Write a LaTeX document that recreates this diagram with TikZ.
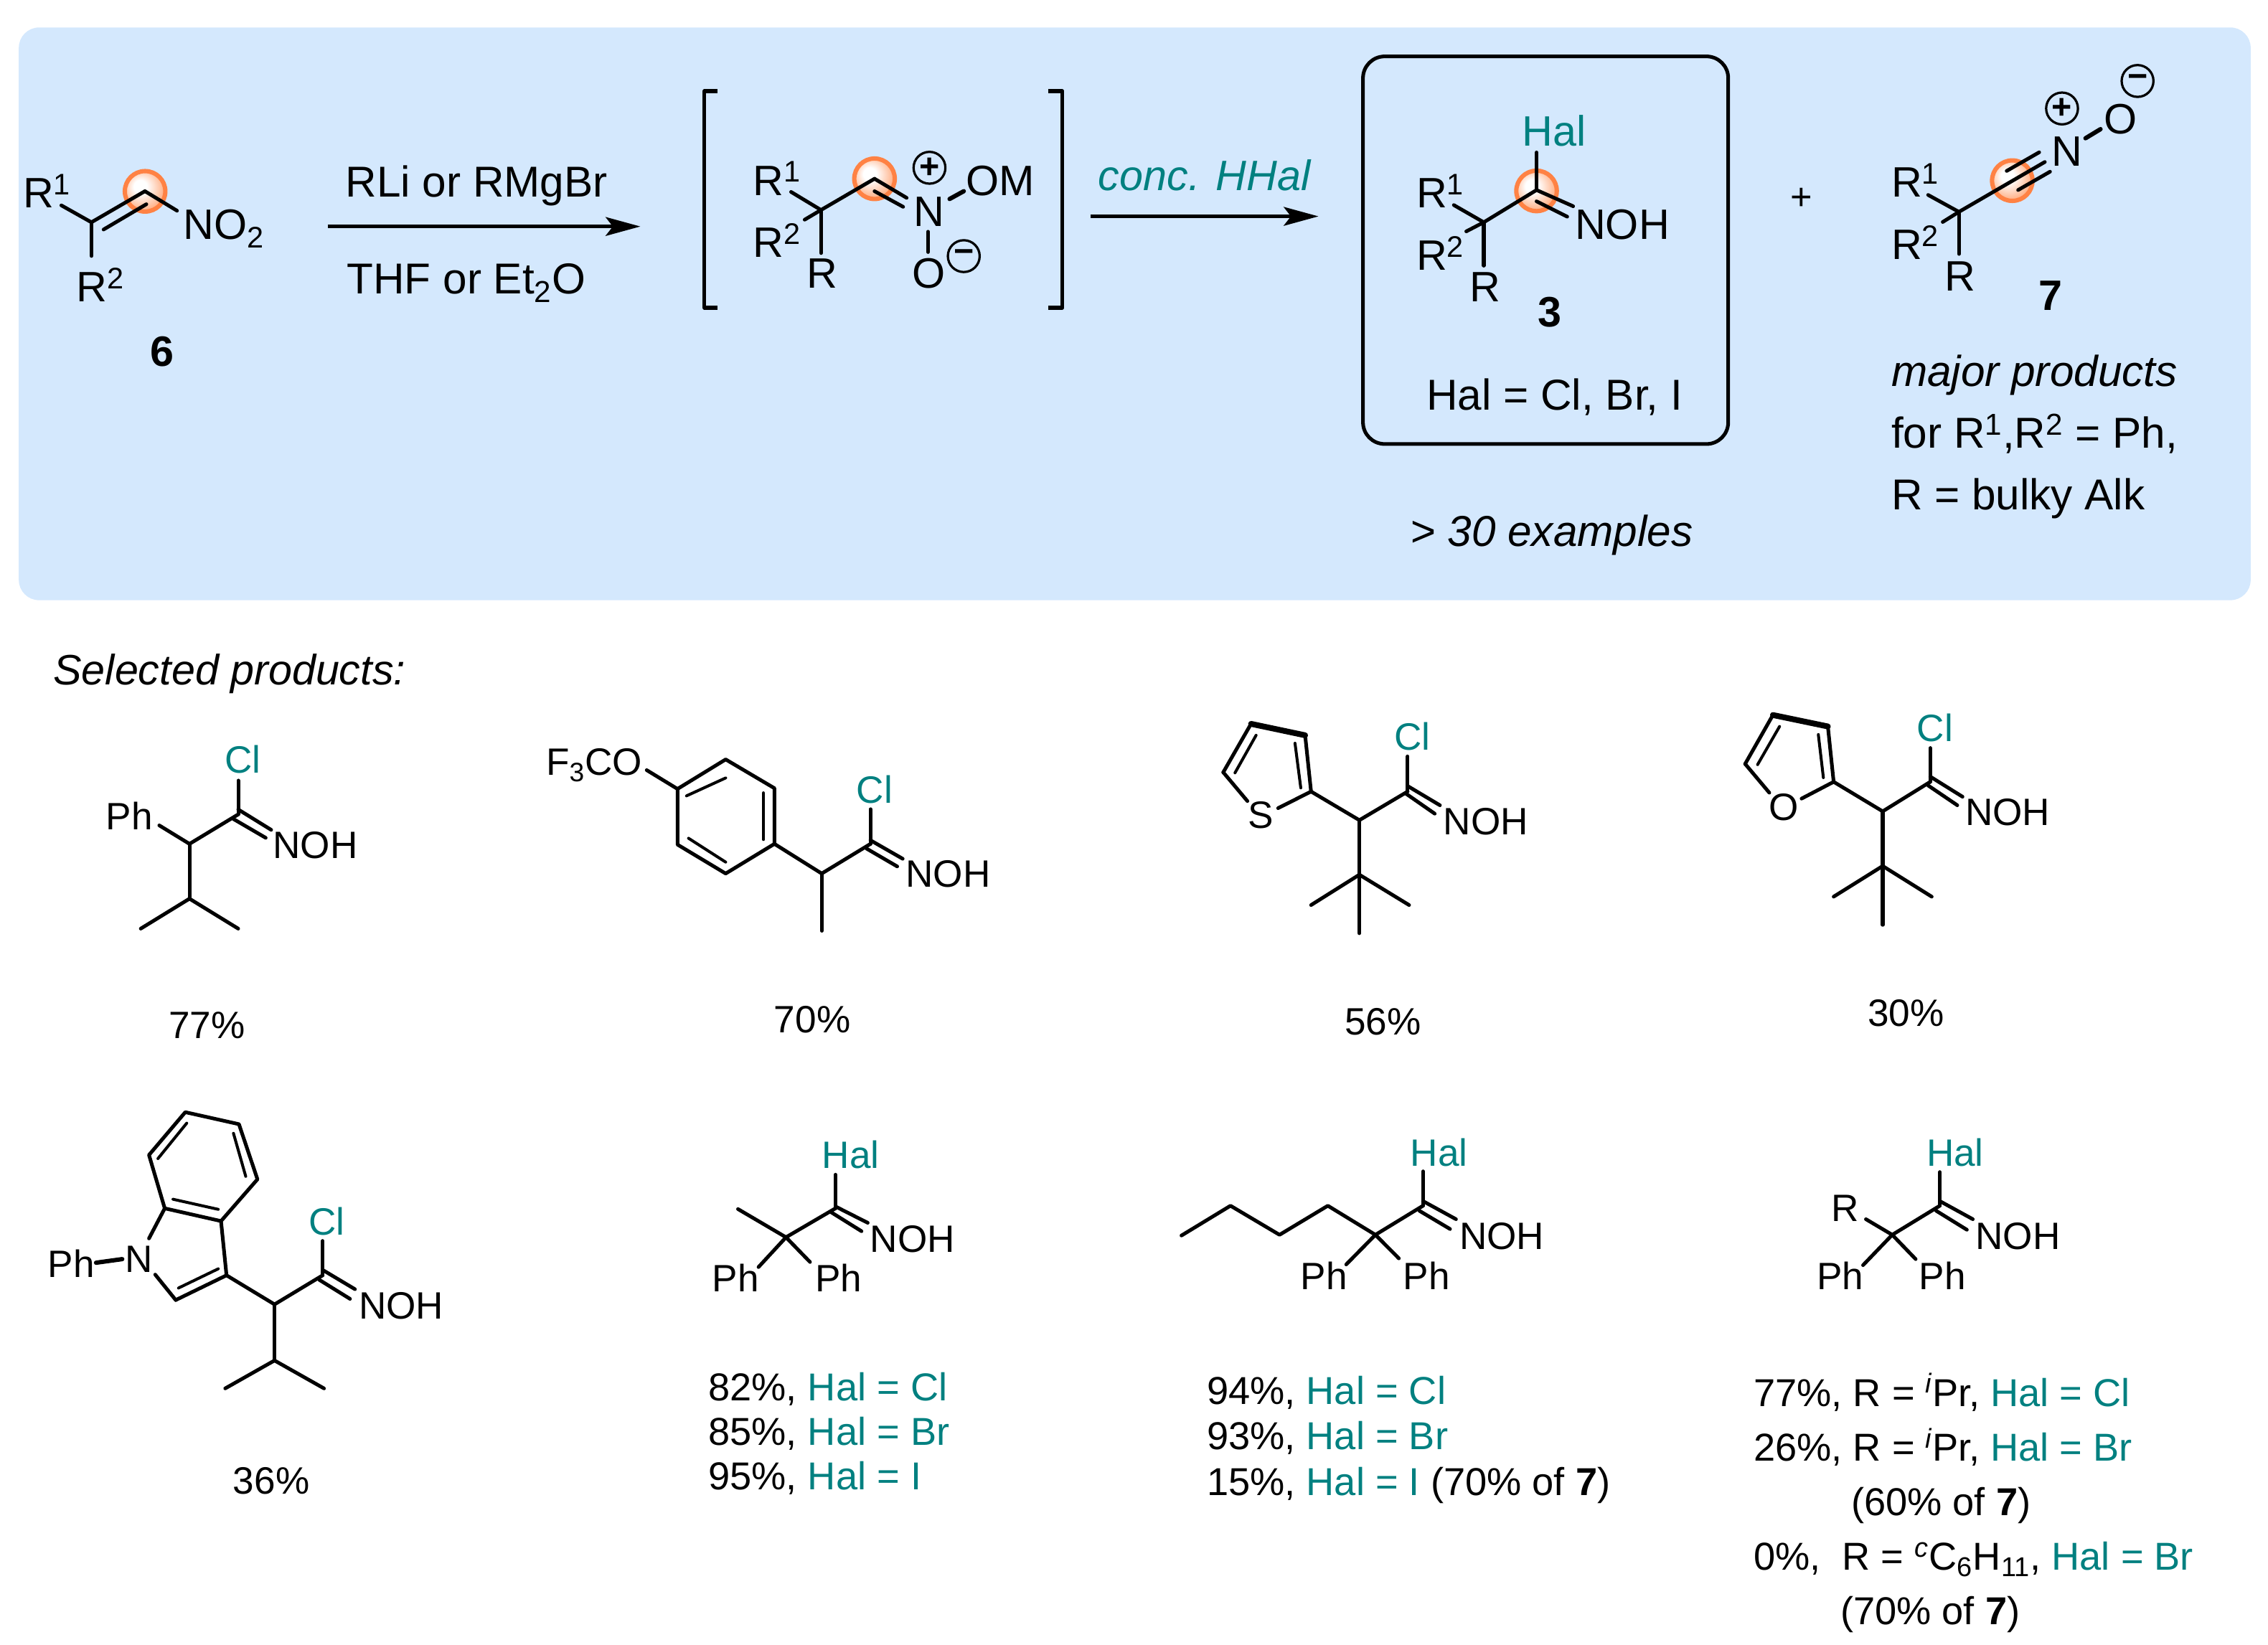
\documentclass[tikz,border=0pt]{standalone}
\usepackage{fontspec}
\setmainfont{Liberation Sans}
\usepackage{xcolor}
\usetikzlibrary{arrows.meta}
\definecolor{panelblue}{HTML}{D4E8FD}
\definecolor{halteal}{HTML}{008080}
\definecolor{orbitorange}{HTML}{FF8244}
\definecolor{orbitlight}{HTML}{FFB48C}
\pgfdeclareradialshading{orbital}{\pgfpoint{-7bp}{7bp}}{color(0bp)=(white); color(8bp)=(white); color(26bp)=(orbitlight); color(50bp)=(orbitlight)}
\newcommand{\Hal}[1]{\textcolor{halteal}{#1}}
\newcommand{\topfont}{\fontsize{29.4}{32}\selectfont}
\newcommand{\capfont}{\fontsize{29.9}{32}\selectfont}
\newcommand{\lowfont}{\fontsize{26.35}{30}\selectfont}
\newcommand{\yieldfont}{\fontsize{26.9}{30}\selectfont}
\tikzset{
  bond/.style={line width=2.5pt},
  backbond/.style={line width=4pt},
  thinbond/.style={line width=2pt},
  nobond/.style={line width=3pt},
  bracket/.style={line width=2.5pt,line cap=butt},
  toptext/.style={anchor=base west,inner sep=0pt,xshift=-1.3pt,yshift=0.5pt,font=\topfont},
  captext/.style={toptext,font=\capfont},
  lowtext/.style={anchor=base west,inner sep=0pt,xshift=-1.3pt,yshift=0.5pt,font=\lowfont},
  yieldtext/.style={lowtext,font=\yieldfont},
  label/.style={anchor=center,inner sep=0pt,font=\topfont\bfseries},
  charge/.style={circle,draw,line width=1.6pt,minimum size=22pt,inner sep=0pt,font=\fontsize{24}{24}\selectfont\bfseries},
  orbit/.style={draw=orbitorange,line width=3pt,shading=orbital},
  rxnarrow/.style={line width=2.2pt,line cap=butt,-{Stealth[length=24pt,width=13pt,inset=5pt]}}
}
\begin{document}
\begin{tikzpicture}[line cap=round,line join=round,x=1pt,y=-1pt]
\useasboundingbox (0,0) rectangle (1568,1137);

\fill [panelblue,rounded corners=14pt] (13,19) rectangle (1556,415);
\draw [line width=2.5pt,rounded corners=15pt] (942.3,39) rectangle (1194.8,307);

\shadedraw [orbit] (100.3,132.3) circle (14);
\shadedraw [orbit] (604.6,123.6) circle (14);
\shadedraw [orbit] (1062.3,132) circle (14);
\shadedraw [orbit] (1391.2,124.9) circle (14);

\draw [bond] (42.4,142)-- (63.2,153.7);
\draw [bond] (63.2,177)-- (63.2,153.7);
\draw [bond] (63.2,153.7)-- (100.2,132.2);
\draw [bond] (71.6,158.7)-- (101.2,141.2);
\draw [bond] (100.2,132.2)-- (122.4,145.7);
\node [toptext] (sixa) at (17,144) {R\textsuperscript{1}};
\node [toptext] (sixb) at (54,209) {R\textsuperscript{2}};
\node [toptext] (sixc) at (128,166) {NO\textsubscript{2}};
\node [label] (six) at (112,243) {6};

\coordinate (arrowas) at (226.6,156.6);
\coordinate (arrowae) at (442.7,156.6);
\draw [rxnarrow] (arrowas)-- (arrowae);
\node [captext] (rlitext) at (240,136.6) {RLi or RMgBr};
\node [captext] (thftext) at (241,203.7) {THF or Et\textsubscript{2}O};

\draw [bracket] (496,63)-- (487,63)-- (487,212.8)-- (496,212.8);
\draw [bracket] (724.6,63)-- (734.5,63)-- (734.5,212.8)-- (724.6,212.8);
\draw [bond] (546.9,132.7)-- (567.6,145.2);
\draw [bond] (556.3,151.9)-- (567.6,145.2);
\draw [bond] (567.6,175)-- (567.6,145.2);
\draw [bond] (567.6,145.2)-- (604.6,123.6);
\draw [bond] (604.6,123.6)-- (626.8,136.8);
\draw [bond] (604.6,132.2)-- (624.4,143);
\draw [bond] (641.6,160.2)-- (641.6,174.3);
\draw [nobond] (656.5,137.6)-- (666.3,132.2);
\node [toptext] (inta) at (521.7,135.5) {R\textsuperscript{1}};
\node [toptext] (intb) at (521.7,178.5) {R\textsuperscript{2}};
\node [toptext] (intc) at (559,199.8) {R};
\node [toptext] (intn) at (633,156.9) {N};
\node [toptext] (intom) at (668.8,135.5) {OM};
\node [toptext] (into) at (631.8,199.8) {O};
\node [charge] (intplus) at (642.6,116) {+};
\node [charge] (intminus) at (666.3,177.1) {−};

\coordinate (arrowbs) at (754,149.6);
\coordinate (arrowbe) at (911.5,149.6);
\draw [rxnarrow] (arrowbs)-- (arrowbe);
\node [toptext,text=halteal] (conctext) at (760.5,132) {\itshape conc. HHal};

\draw [bond] (1005.1,141.8)-- (1025.8,153.7);
\draw [bond] (1013.7,160)-- (1025.8,153.7);
\draw [bond] (1025.8,183.7)-- (1025.8,153.7);
\draw [bond] (1025.8,153.7)-- (1062.3,131.4);
\draw [bond] (1062.3,105.4)-- (1062.3,131.4);
\draw [bond] (1062.3,131.4)-- (1087.6,142.6);
\draw [bond] (1062.3,139.2)-- (1083.5,149.8);
\node [toptext,text=halteal] (prodhal) at (1053.6,101.5) {Hal};
\node [toptext] (proda) at (980.3,144) {R\textsuperscript{1}};
\node [toptext] (prodb) at (980.3,187.5) {R\textsuperscript{2}};
\node [toptext] (prodc) at (1017.2,208.9) {R};
\node [toptext] (prodn) at (1090,166) {NOH};
\node [label] (three) at (1071.4,215.9) {3};
\node [captext] (haltext) at (987.4,283.8) {Hal = Cl, Br, I};
\node [captext,font=\capfont\itshape] (examples) at (976.2,378) {> 30 examples};
\node [anchor=center,inner sep=0pt,font=\fontsize{26}{26}\selectfont] (plus) at (1245.5,137.4) {+};

\draw [bond] (1333,134.8)-- (1354.3,146.5);
\draw [bond] (1343.1,153.5)-- (1354.3,146.5);
\draw [bond] (1354.3,175.6)-- (1354.3,146.5);
\draw [bond] (1354.3,146.5)-- (1413.7,112);
\draw [bond] (1387.3,118.2)-- (1409.8,105.3);
\draw [bond] (1395.2,131.4)-- (1417.3,118.7);
\draw [nobond] (1441.8,95.6)-- (1452.2,89.3);
\node [toptext] (nitrn) at (1419.6,115.2) {N};
\node [toptext] (nitro) at (1455.5,93.1) {O};
\node [charge] (nitrplus) at (1425.6,75) {+};
\node [charge] (nitrminus) at (1477.8,56) {−};
\node [toptext] (nitra) at (1308.7,136.8) {R\textsuperscript{1}};
\node [toptext] (nitrb) at (1308.7,179.8) {R\textsuperscript{2}};
\node [toptext] (nitrc) at (1345.7,201.6) {R};
\node [label] (seven) at (1417.5,204.5) {7};
\node [captext,font=\capfont\itshape] (majora) at (1308.7,267.4) {major products};
\node [captext] (majorb) at (1308.7,310.3) {for R\textsuperscript{1},R\textsuperscript{2} = Ph,};
\node [captext] (majorc) at (1308.7,352.7) {R = bulky Alk};

\node [toptext,font=\topfont\itshape] (selected) at (38,473.9) {Selected products:};

\draw [bond] (110.1,570.7)-- (131,583.5);
\draw [bond] (131,583.5)-- (164.7,563.1);
\draw [bond] (164.7,539.7)-- (164.7,563.1);
\draw [bond] (164.7,559.7)-- (187.5,573.8);
\draw [bond] (161.4,566.3)-- (183.7,579.3);
\draw [bond] (131,583.5)-- (131,621.4);
\draw [bond] (131,621.4)-- (97.3,642.1);
\draw [bond] (131,621.4)-- (164.7,642.1);
\node [lowtext,text=halteal] (acl) at (156.6,535.2) {Cl};
\node [lowtext] (aph) at (74.5,574.3) {Ph};
\node [lowtext] (anoh) at (189.8,593.8) {NOH};
\node [lowtext] (ayield) at (117.7,718.7) {77\%};

\draw [bond] (501.7,525.1)-- (535.4,545)-- (535.4,583.5)-- (501.7,604)-- (468.4,584)-- (468.4,545.5)-- cycle;
\draw [thinbond] (474.6,550.3)-- (501.7,537.9);
\draw [thinbond] (527.8,548.2)-- (527.8,580.5);
\draw [thinbond] (476,579.6)-- (501.7,596.1);
\draw [bond] (468.4,545.5)-- (447.1,532.5);
\draw [bond] (535.4,583.5)-- (568.1,604);
\draw [bond] (568.1,604)-- (601.8,583.5);
\draw [bond] (568.1,604)-- (568.1,643.6);
\draw [bond] (601.8,559.5)-- (601.8,583.5);
\draw [bond] (601.8,581)-- (624.1,593.8);
\draw [bond] (599,586.7)-- (620.3,599.1);
\node [lowtext] (bocf) at (378.7,536.5) {F\textsubscript{3}CO};
\node [lowtext,text=halteal] (bcl) at (593.3,555.6) {Cl};
\node [lowtext] (bnoh) at (627.4,613.9) {NOH};
\node [lowtext] (byield) at (536.3,714.6) {70\%};

\draw [bond] (906.4,547.3)-- (939.8,567.1);
\draw [bond] (939.8,567.1)-- (973.2,547.3);
\draw [bond] (973.2,523)-- (973.2,547.3);
\draw [bond] (973.2,543.5)-- (995.5,556.8);
\draw [bond] (972.2,548.9)-- (991.9,562.6);
\draw [bond] (939.8,567.1)-- (939.8,604.8);
\draw [bond] (939.8,604.8)-- (906.4,625.8);
\draw [bond] (939.8,604.8)-- (974.2,625.8);
\draw [bond] (939.8,604.8)-- (939.8,645.3);
\draw [bond] (906.4,547.3)-- (902.3,508.4);
\draw [backbond] (902.3,508.4)-- (864.9,500.5);
\draw [bond] (864.9,500.5)-- (845.7,534);
\draw [bond] (845.7,534)-- (862.4,553.9);
\draw [bond] (906.4,547.3)-- (883.6,558.8);
\draw [thinbond] (895.3,513.9)-- (899.3,544.8);
\draw [thinbond] (868.4,508.4)-- (853.8,534.4);
\node [lowtext] (cs) at (863.9,573.4) {S};
\node [lowtext,text=halteal] (ccl) at (965.1,519.2) {Cl};
\node [lowtext] (cnoh) at (999,577.4) {NOH};
\node [lowtext] (cyield) at (930.7,715.9) {56\%};

\draw [bond] (1267.7,540.6)-- (1301.6,561);
\draw [bond] (1301.6,561)-- (1334.5,540.6);
\draw [bond] (1334.5,517.2)-- (1334.5,540.6);
\draw [bond] (1334.5,537)-- (1356.8,550.9);
\draw [bond] (1333,543.1)-- (1353.2,556.8);
\draw [bond] (1301.6,561)-- (1301.6,598.8);
\draw [bond] (1301.6,598.8)-- (1267.7,620);
\draw [bond] (1301.6,598.8)-- (1335.5,620);
\draw [bond] (1301.6,598.8)-- (1301.6,639.5);
\draw [bond] (1267.7,540.6)-- (1263.7,502.3);
\draw [backbond] (1263.7,502.3)-- (1225.7,494.4);
\draw [bond] (1225.7,494.4)-- (1206.5,528.2);
\draw [bond] (1206.5,528.2)-- (1223.2,548.1);
\draw [bond] (1267.7,540.6)-- (1245.5,552.2);
\draw [thinbond] (1257.1,507.9)-- (1260.6,537.7);
\draw [thinbond] (1230.3,502.3)-- (1215.1,528.7);
\node [lowtext] (do) at (1224.2,567.6) {O};
\node [lowtext,text=halteal] (dcl) at (1326.4,513.4) {Cl};
\node [lowtext] (dnoh) at (1359.8,571.2) {NOH};
\node [lowtext] (dyield) at (1292.5,710.1) {30\%};

\draw [bond] (128.1,769)-- (165.2,777.3)-- (178,815.4)-- (152.8,844.3)-- (113.9,835.5)-- (103,798.6)-- cycle;
\draw [thinbond] (129.1,776.6)-- (109.2,801.1);
\draw [thinbond] (161.4,783.6)-- (169.9,813.4);
\draw [thinbond] (119.6,829.2)-- (150.9,836.2);
\draw [bond] (152.8,844.3)-- (156.6,881.8);
\draw [bond] (156.6,881.8)-- (121.5,898.9);
\draw [bond] (121.5,898.9)-- (107.3,881.3);
\draw [bond] (113.9,835.5)-- (103,856.3);
\draw [thinbond] (150.9,877.3)-- (123.4,890.6);
\draw [nobond] (66.4,873.1)-- (84.5,870.6);
\draw [bond] (156.6,881.8)-- (189.8,901.9);
\draw [bond] (189.8,901.9)-- (223.1,881.8);
\draw [bond] (223.1,858)-- (223.1,881.8);
\draw [bond] (223.1,878.1)-- (245.4,891.4);
\draw [bond] (220.7,884.9)-- (242,898.1);
\draw [bond] (189.8,901.9)-- (189.8,940.7);
\draw [bond] (189.8,940.7)-- (155.7,960);
\draw [bond] (189.8,940.7)-- (224,960);
\node [lowtext] (eph) at (34.2,883.6) {Ph};
\node [lowtext] (en) at (87.8,880.1) {N};
\node [lowtext,text=halteal] (ecl) at (214.5,854.3) {Cl};
\node [lowtext] (enoh) at (249.2,912.4) {NOH};
\node [lowtext] (eyield) at (162.3,1033.5) {36\%};

\draw [bond] (543.4,855.5)-- (577.6,835.5);
\draw [bond] (577.6,812.2)-- (577.6,835.5);
\draw [bond] (510.2,836)-- (543.4,855.5);
\draw [bond] (543.4,855.5)-- (524.4,876.1);
\draw [bond] (543.4,855.5)-- (560,872.6);
\draw [bond] (577.6,834.2)-- (599.9,845.5);
\draw [bond] (574.3,838)-- (595.6,851.3);
\node [lowtext,text=halteal] (fhal) at (569.5,808.4) {Hal};
\node [lowtext] (fnoh) at (602.7,866.3) {NOH};
\node [lowtext] (fpha) at (493.6,893.6) {Ph};
\node [lowtext] (fphb) at (564.8,893.6) {Ph};
\node [yieldtext] (fyielda) at (490.8,968.8) {82\%, \Hal{Hal = Cl}};
\node [yieldtext] (fyieldb) at (490.8,999.6) {85\%, \Hal{Hal = Br}};
\node [yieldtext] (fyieldc) at (490.8,1030.5) {95\%, \Hal{Hal = I}};

\draw [bond] (816.8,854.3)-- (850.7,833.7)-- (884.6,853.8)-- (918,833.7)-- (950.9,853.8)-- (983.8,833.7);
\draw [bond] (983.8,809.9)-- (983.8,833.7);
\draw [bond] (950.9,853.8)-- (930.7,874.3);
\draw [bond] (950.9,853.8)-- (967.1,870.1);
\draw [bond] (983.8,830.5)-- (1006.6,843);
\draw [bond] (981.3,837.2)-- (1002.5,849.8);
\node [lowtext,text=halteal] (ghal) at (976.2,806.7) {Hal};
\node [lowtext] (gnoh) at (1010.1,864.3) {NOH};
\node [lowtext] (gpha) at (900.3,891.9) {Ph};
\node [lowtext] (gphb) at (971.2,891.9) {Ph};
\node [yieldtext] (gyielda) at (835.5,971.3) {94\%, \Hal{Hal = Cl}};
\node [yieldtext] (gyieldb) at (835.5,1002.9) {93\%, \Hal{Hal = Br}};
\node [yieldtext] (gyieldc) at (835.5,1034.7) {15\%, \Hal{Hal = I} (70\% of \textbf{7})};

\draw [bond] (1308.2,853.8)-- (1341.1,833.7);
\draw [bond] (1341.1,810.4)-- (1341.1,833.7);
\draw [bond] (1290,843)-- (1308.2,853.8);
\draw [bond] (1308.2,853.8)-- (1288,874.8);
\draw [bond] (1308.2,853.8)-- (1324.4,870.6);
\draw [bond] (1341.1,830.5)-- (1363.9,843);
\draw [bond] (1338.6,837.2)-- (1359.8,850.3);
\node [lowtext,text=halteal] (hhal) at (1333,806.7) {Hal};
\node [lowtext] (hr) at (1267.2,845) {R};
\node [lowtext] (hnoh) at (1366.9,864.3) {NOH};
\node [lowtext] (hpha) at (1257.1,891.9) {Ph};
\node [lowtext] (hphb) at (1328,891.9) {Ph};
\node [yieldtext] (hyielda) at (1213.5,972.8) {77\%, R = \textsuperscript{\itshape i}Pr, \Hal{Hal = Cl}};
\node [yieldtext] (hyieldb) at (1213.5,1010.9) {26\%, R = \textsuperscript{\itshape i}Pr, \Hal{Hal = Br}};
\node [yieldtext] (hyieldc) at (1281,1048.5) {(60\% of \textbf{7})};
\node [yieldtext] (hyieldd) at (1213.5,1086.1) {0\%,\ \ R = \textsuperscript{\itshape c}C\textsubscript{6}H\textsubscript{11}, \Hal{Hal = Br}};
\node [yieldtext] (hyielde) at (1273.5,1123.7) {(70\% of \textbf{7})};
\end{tikzpicture}
\end{document}
